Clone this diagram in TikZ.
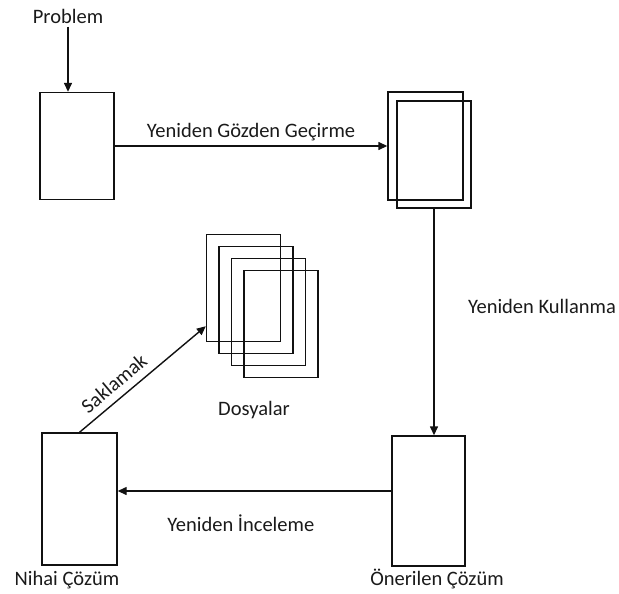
\documentclass[tikz,border=0pt]{standalone}
\usepackage{fontspec}
\setmainfont{Carlito}
\usepackage{xcolor}
\usepackage{tikz}
\usetikzlibrary{positioning,calc,arrows.meta}
\definecolor{CInk}{HTML}{1A1A1A}
\definecolor{CLine}{HTML}{111111}

\begin{document}
\begin{tikzpicture}[x=1pt,y=-1pt,
  every node/.style={align=center, font=\fontsize{20.5}{24}\selectfont, text=CInk},
  casebox/.style={draw=CLine, line width=1.4pt, minimum width=74pt, minimum height=107pt, inner sep=0pt},
  flow/.style={draw=CLine, line width=1.4pt, -{Triangle[length=9pt,width=8pt]}}]
  \useasboundingbox (0,0) rectangle (619,594);

  % Problem
  \node (prob) at (68,16) {Problem};
  \node[casebox] (case) at (77,146) {};

  % Yeniden Gozden Gecirme
  \node[casebox, minimum width=75pt, minimum height=108pt] (rev1) at (425.5,146) {};
  \node[casebox] (rev2) at (434,154.5) {};

  % Onerilen / Nihai cozum
  \node[casebox, minimum width=73pt, minimum height=130pt] (oner) at (428.5,501) {};
  \node[casebox, minimum width=75pt, minimum height=132pt] (nihai) at (79.5,499) {};
  \node (onerlbl) at (437,579) {Önerilen Çözüm};
  \node (nihailbl) at (67,580) {Nihai Çözüm};

  % Dosyalar
  \node[casebox] (dos1) at (243.5,288) {};
  \node[casebox] (dos2) at (256,300) {};
  \node[casebox] (dos3) at (268.5,312) {};
  \node[casebox] (dos4) at (281,324) {};
  \node (doslbl) at (254,410) {Dosyalar};

  \draw[flow] (prob.south) -- (prob.south |- case.north);
  \draw[flow] (case.east) -- node[above=1pt] {Yeniden Gözden Geçirme} (rev1.west);
  \draw[flow] (rev2.south) -- node[pos=0.43, right=30pt] {Yeniden Kullanma} (rev2.south |- oner.north);
  \draw[flow] ([yshift=10pt]oner.west) -- node[pos=0.55, below=20pt] {Yeniden İnceleme} ([yshift=10pt]oner.west -| nihai.east);
  \draw[flow] (nihai.north) -- node[pos=0.35, sloped, above=4pt] {Saklamak} ([yshift=16pt]dos1.south west);
\end{tikzpicture}
\end{document}
